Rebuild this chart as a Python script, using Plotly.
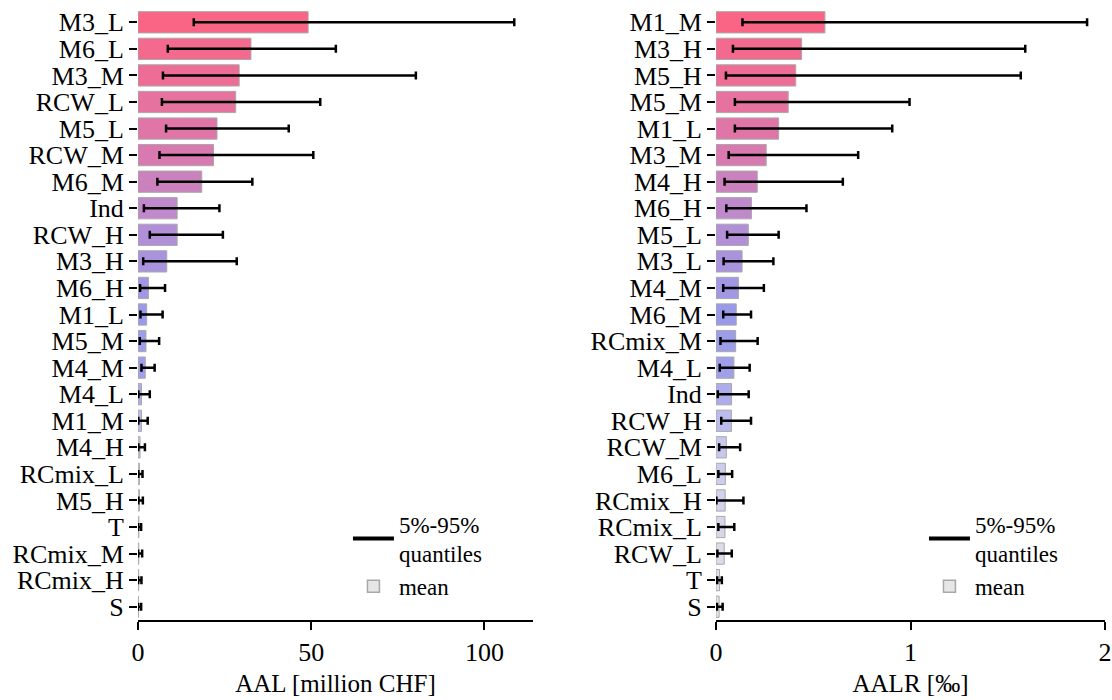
import plotly.graph_objects as go

# ---- data: left panel (AAL, million CHF) ----
aal_cats = ["M3_L", "M6_L", "M3_M", "RCW_L", "M5_L", "RCW_M", "M6_M", "Ind", "RCW_H", "M3_H",
            "M6_H", "M1_L", "M5_M", "M4_M", "M4_L", "M1_M", "M4_H", "RCmix_L", "M5_H", "T",
            "RCmix_M", "RCmix_H", "S"]
aal_mean = [49.1, 32.6, 29.2, 28.2, 22.8, 21.8, 18.4, 11.3, 11.3, 8.3,
            3.0, 2.5, 2.3, 2.1, 1.0, 1.0, 0.6, 0.4, 0.4, 0.25,
            0.22, 0.2, 0.1]
aal_q05 = [16.1, 8.6, 7.2, 6.9, 8.1, 6.2, 5.6, 1.7, 3.4, 1.5,
           0.6, 0.7, 0.5, 1.0, 0.1, 0.1, 0.1, 0.1, 0.1, 0.05,
           0.05, 0.05, 0.02]
aal_q95 = [108.6, 57.1, 80.2, 52.6, 43.5, 50.6, 33.0, 23.5, 24.5, 28.5,
           7.8, 7.1, 6.1, 4.8, 3.4, 2.8, 2.0, 1.3, 1.4, 0.9,
           1.2, 1.0, 0.9]

# ---- data: right panel (AALR, permille) ----
aalr_cats = ["M1_M", "M3_H", "M5_H", "M5_M", "M1_L", "M3_M", "M4_H", "M6_H", "M5_L", "M3_L",
             "M4_M", "M6_M", "RCmix_M", "M4_L", "Ind", "RCW_H", "RCW_M", "M6_L", "RCmix_H",
             "RCmix_L", "RCW_L", "T", "S"]
aalr_mean = [0.56, 0.44, 0.41, 0.371, 0.322, 0.258, 0.212, 0.182, 0.166, 0.134,
             0.115, 0.104, 0.101, 0.092, 0.080, 0.079, 0.053, 0.048, 0.047,
             0.046, 0.042, 0.018, 0.016]
aalr_q05 = [0.136, 0.087, 0.051, 0.097, 0.097, 0.065, 0.044, 0.053, 0.057, 0.039,
            0.037, 0.037, 0.023, 0.019, 0.009, 0.027, 0.016, 0.012, 0.002,
            0.012, 0.007, 0.006, 0.005]
aalr_q95 = [1.908, 1.59, 1.567, 0.995, 0.906, 0.731, 0.652, 0.465, 0.322, 0.295,
            0.246, 0.180, 0.214, 0.173, 0.168, 0.180, 0.124, 0.083, 0.141,
            0.094, 0.081, 0.030, 0.034]

aal_ticks = [0, 50, 100]
aalr_ticks = [0, 1, 2]

# ---- style: rank-based colour ramp pink -> purple -> blue -> light grey ----
anchors = [(0, (251, 101, 133)), (5, (216, 122, 176)), (8, (178, 144, 216)),
           (11, (154, 154, 234)), (13, (160, 160, 234)), (16, (200, 200, 238)),
           (22, (230, 230, 234))]


def ramp(n):
    out = []
    for i in range(n):
        for (a, ca), (b, cb) in zip(anchors[:-1], anchors[1:]):
            if a <= i <= b:
                t = (i - a) / (b - a)
                c = [round(ca[k] + (cb[k] - ca[k]) * t) for k in range(3)]
                out.append("rgb(%d,%d,%d)" % tuple(c))
                break
    return out


FONT = "Liberation Serif"
fig = go.Figure()


def add_panel(cats, mean, lo, hi, xa, ya, legend):
    fig.add_trace(go.Bar(
        x=mean, y=cats, orientation="h", xaxis=xa, yaxis=ya, width=0.8,
        marker=dict(color=ramp(len(cats)), line=dict(color="#a8a8a8", width=1)),
        error_x=dict(type="data", symmetric=False,
                     array=[h - m for h, m in zip(hi, mean)],
                     arrayminus=[m - l for m, l in zip(mean, lo)],
                     color="black", thickness=2.5, width=4),
        showlegend=False, hoverinfo="skip"))
    fig.add_trace(go.Scatter(
        x=[None], y=[None], mode="lines", xaxis=xa, yaxis=ya,
        line=dict(color="black", width=4), name="5%-95%<br>quantiles",
        legend=legend))
    fig.add_trace(go.Bar(
        x=[None], y=[None], xaxis=xa, yaxis=ya, name="mean",
        marker=dict(color="#e6e6e6", line=dict(color="#a8a8a8", width=1.5)),
        legend=legend))


add_panel(aal_cats, aal_mean, aal_q05, aal_q95, "x", "y", "legend")
add_panel(aalr_cats, aalr_mean, aalr_q05, aalr_q95, "x2", "y2", "legend2")

xcommon = dict(showline=True, linecolor="black", linewidth=2, ticks="outside",
               ticklen=8, tickwidth=1.5, tickcolor="black", showgrid=False,
               zeroline=False, automargin=False, tickmode="array",
               tickfont=dict(family=FONT, size=26, color="black"),
               title_font=dict(family=FONT, size=25, color="black"), title_standoff=8)
ycommon = dict(showline=False, ticks="outside", ticklen=8, tickwidth=1.5,
               tickcolor="black", showgrid=False, zeroline=False, automargin=False,
               tickfont=dict(family=FONT, size=26, color="black"),
               autorange="reversed", type="category", tickmode="array")

legend_style = dict(font=dict(family=FONT, size=23, color="black"),
                    bgcolor="rgba(0,0,0,0)", xanchor="left", yanchor="top",
                    tracegroupgap=0, itemwidth=41)

fig.update_layout(
    width=1112, height=700,
    margin=dict(l=0, r=0, t=9, b=80),
    plot_bgcolor="white", paper_bgcolor="white",
    barmode="overlay",
    xaxis=dict(domain=[0.1241, 0.4793], range=[0, 114], tickvals=aal_ticks,
               title_text="AAL [million CHF]", anchor="y", **xcommon),
    yaxis=dict(anchor="x", categoryorder="array", categoryarray=aal_cats,
               tickvals=aal_cats, ticktext=aal_cats, **ycommon),
    xaxis2=dict(domain=[0.6439, 0.9937], range=[0, 2.0], tickvals=aalr_ticks,
                title_text="AALR [‰]", anchor="y2", **xcommon),
    yaxis2=dict(anchor="x2", categoryorder="array", categoryarray=aalr_cats,
                tickvals=aalr_cats, ticktext=aalr_cats, **ycommon),
    legend=dict(x=0.3129, y=0.193, **legend_style),
    legend2=dict(x=0.8309, y=0.193, **legend_style),
)

# remove the default page margin so the 1112x700 figure fills the window exactly
fig.write_html("out.html",
               config={"displayModeBar": False},
               post_script="document.body.style.margin='0';"
                           "document.body.style.overflow='hidden';")
